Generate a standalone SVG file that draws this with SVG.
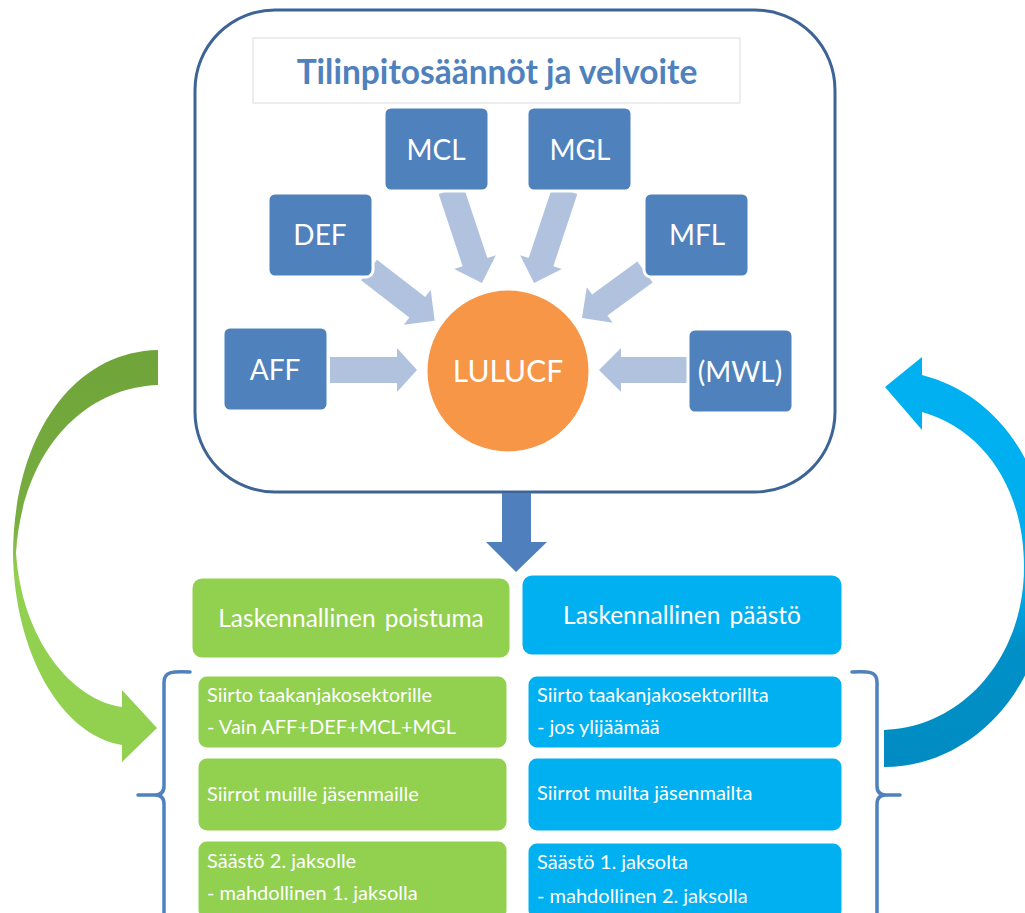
<svg xmlns="http://www.w3.org/2000/svg" width="1025" height="913" viewBox="0 0 1025 913">
<defs>
<style>
.bx{fill:#4f81bd;stroke:#ffffff;stroke-width:3}
.lbl{font-family:Lato,"Open Sans",sans-serif;font-size:28px;fill:#ffffff;text-anchor:middle}
.arr{fill:#b0c2de}
.hdr{font-family:Lato,"Open Sans",sans-serif;font-size:24.5px;fill:#ffffff;text-anchor:middle;word-spacing:3px}
.it{font-family:Lato,"Open Sans",sans-serif;font-size:20px;fill:#ffffff}
.g{fill:#92d050;stroke:#ffffff;stroke-width:3}
.b{fill:#00b0f0;stroke:#ffffff;stroke-width:3}
.br{fill:none;stroke:#4f81bd;stroke-width:3.5;stroke-linecap:round}
</style>
<linearGradient id="gg" gradientUnits="userSpaceOnUse" x1="0" y1="350" x2="0" y2="760">
<stop offset="0" stop-color="#6fa43a"/>
<stop offset="0.42" stop-color="#78ad40"/>
<stop offset="0.55" stop-color="#92d050"/>
<stop offset="1" stop-color="#92d050"/>
</linearGradient>
<linearGradient id="bg" gradientUnits="userSpaceOnUse" x1="0" y1="357" x2="0" y2="767">
<stop offset="0" stop-color="#00b0f0"/>
<stop offset="0.55" stop-color="#00aeee"/>
<stop offset="0.7" stop-color="#0090c8"/>
<stop offset="1" stop-color="#008cc2"/>
</linearGradient>
</defs>
<rect x="0" y="0" width="1025" height="913" fill="#ffffff"/>

<g id="main-frame">
<rect x="195" y="10" width="640" height="482" rx="80" ry="80" fill="#ffffff" stroke="#3c6496" stroke-width="3"/>
</g>
<g id="title">
<rect x="253" y="38" width="487" height="65" fill="#ffffff" stroke="#dcdcdc" stroke-width="1"/>
<text x="497" y="84" font-family="Lato,'Open Sans',sans-serif" font-size="33.5" font-weight="bold" fill="#4f81bd" text-anchor="middle">Tilinpitosäännöt ja velvoite</text>
</g>

<g id="connectors">
<polygon class="arr" transform="translate(330,370)" points="0,-13 67,-13 67,-22 87,0 67,22 67,13 0,13"/>
<polygon class="arr" transform="translate(688,370) rotate(180)" points="0,-13 67,-13 67,-22 89,0 67,22 67,13 0,13"/>
<polygon class="arr" transform="translate(369,270) rotate(37.7)" points="0,-13 61,-13 61,-22 83,0 61,22 61,13 0,13"/>
<polygon class="arr" transform="translate(451,190) rotate(71.6)" points="0,-13 76,-13 76,-22 98,0 76,22 76,13 0,13"/>
<polygon class="arr" transform="translate(565,190) rotate(108.4)" points="0,-13 76,-13 76,-22 98,0 76,22 76,13 0,13"/>
<polygon class="arr" transform="translate(645,272) rotate(143.9)" points="0,-13 56,-13 56,-22 78,0 56,22 56,13 0,13"/>
<polygon fill="#4f7fbd" points="502,493 531,493 531,542 547,542 516,572 486,542 502,542"/>
<path fill="url(#gg)" d="M 158 350 C 70 352, 14 440, 13 553 C 14 650, 60 735, 122 745 L 122 762 L 157 728 L 122 690 L 122 707 C 72 700, 22 640, 16 553 C 22 455, 80 388, 158 385 Z"/>
<path fill="url(#bg)" d="M 922 375 C 1000 395, 1050 470, 1050 567 C 1050 690, 970 767, 884 767 L 884 730 C 960 728, 1024 660, 1024 567 C 1024 490, 985 430, 922 412 L 922 430 L 885 387 L 922 357 Z"/>
<path class="br" d="M 190 672 C 172 671 164 672 164 682 L 164 786 Q 164 795 155 795 L 138 795 M 155 795 Q 164 795 164 804 L 164 916"/>
<path class="br" d="M 852 672 C 870 671 877 672 877 682 L 877 786 Q 877 795 886 795 L 900 795 M 886 795 Q 877 795 877 804 L 877 916"/>
</g>

<g id="node-mcl"><rect class="bx" x="384" y="107" width="105" height="84" rx="7"/><text class="lbl" x="436" y="160">MCL</text></g>
<g id="node-mgl"><rect class="bx" x="527" y="107" width="105" height="84" rx="7"/><text class="lbl" x="580" y="160">MGL</text></g>
<g id="node-def"><rect class="bx" x="268" y="193" width="105" height="84" rx="7"/><text class="lbl" x="320" y="245">DEF</text></g>
<g id="node-mfl"><rect class="bx" x="644" y="193" width="105" height="84" rx="7"/><text class="lbl" x="697" y="245">MFL</text></g>
<g id="node-aff"><rect class="bx" x="223" y="327" width="105" height="84" rx="7"/><text class="lbl" x="275" y="380">AFF</text></g>
<g id="node-mwl"><rect class="bx" x="688" y="329" width="105" height="84" rx="7"/><text class="lbl" x="740" y="382">(MWL)</text></g>
<g id="node-lulucf"><circle cx="508" cy="371" r="82" fill="#f79646" stroke="#ffffff" stroke-width="3"/><text x="508" y="382" font-family="Lato,'Open Sans',sans-serif" font-size="30" fill="#ffffff" text-anchor="middle">LULUCF</text></g>

<g id="node-poistuma"><rect class="g" x="191" y="577" width="320" height="82" rx="11"/><text class="hdr" x="351" y="627">Laskennallinen poistuma</text></g>
<g id="node-paasto"><rect class="b" x="521" y="574" width="322" height="82" rx="11"/><text class="hdr" x="682" y="624">Laskennallinen päästö</text></g>

<g id="node-g1"><rect class="g" x="197" y="675" width="311" height="74" rx="10"/><text class="it" x="207" y="702">Siirto taakanjakosektorille</text><text class="it" x="207" y="734">- Vain AFF+DEF+MCL+MGL</text></g>
<g id="node-g2"><rect class="g" x="197" y="757" width="311" height="75" rx="10"/><text class="it" x="207" y="801">Siirrot muille jäsenmaille</text></g>
<g id="node-g3"><rect class="g" x="197" y="840" width="311" height="80" rx="10"/><text class="it" x="207" y="868">Säästö 2. jaksolle</text><text class="it" x="207" y="900">- mahdollinen 1. jaksolla</text></g>

<g id="node-b1"><rect class="b" x="527" y="675" width="316" height="74" rx="10"/><text class="it" x="537" y="702">Siirto taakanjakosektorillta</text><text class="it" x="537" y="734">- jos ylijäämää</text></g>
<g id="node-b2"><rect class="b" x="527" y="757" width="316" height="75" rx="10"/><text class="it" x="537" y="800">Siirrot muilta jäsenmailta</text></g>
<g id="node-b3"><rect class="b" x="527" y="842" width="316" height="78" rx="10"/><text class="it" x="537" y="869">Säästö 1. jaksolta</text><text class="it" x="537" y="903">- mahdollinen 2. jaksolla</text></g>
</svg>
